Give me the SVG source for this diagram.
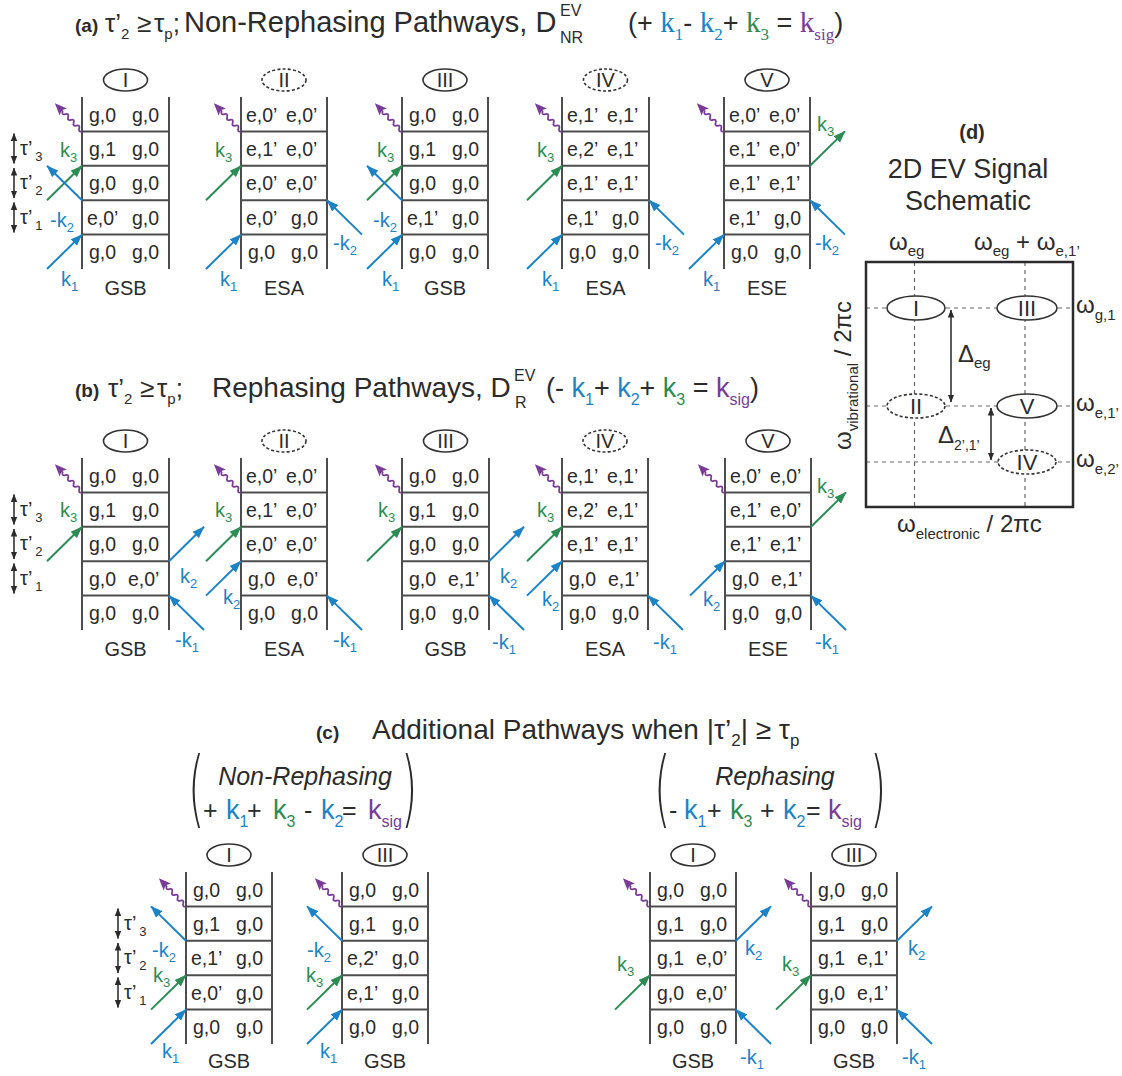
<svg xmlns="http://www.w3.org/2000/svg" xmlns:xlink="http://www.w3.org/1999/xlink" width="1122" height="1076" viewBox="0 0 1122 1076">
<style>
text { font-family: "Liberation Sans", Arial, sans-serif; fill: #2b2b2b; }
.cell { font-size: 19.5px; }
.num { font-size: 20px; text-anchor: middle; }
.cap { font-size: 20px; text-anchor: middle; }
.lb { font-size: 20px; }
.sb { font-size: 13px; }
.bl { fill: #1c83c6; }
.gr { fill: #2c8c53; }
.pu { fill: #7a3b97; }
.sf { font-family: "Liberation Serif", "Times New Roman", serif; }
.ttl { font-size: 29px; }
.par { font-family: "DejaVu Sans", "Liberation Sans", sans-serif; font-weight: 200; font-size: 84px; }
.grid { stroke: #4d4d4d; stroke-width: 2; fill: none; }
.ov { fill: #fff; stroke: #333; stroke-width: 1.6; }
.dov { stroke-dasharray: 3 2.2; }
.ab { stroke: #1c83c6; stroke-width: 2; fill: none; marker-end: url(#mb); }
.ag { stroke: #2c8c53; stroke-width: 2; fill: none; marker-end: url(#mg); }
.tau { stroke: #333; stroke-width: 1.6; marker-start: url(#mk); marker-end: url(#mk); }
.dash { stroke: #666; stroke-width: 1.2; stroke-dasharray: 4 4; fill: none; }
</style>
<defs>
<marker id="mb" viewBox="0 0 12 10" refX="11.5" refY="5" markerWidth="12" markerHeight="10" orient="auto" markerUnits="userSpaceOnUse"><path d="M0,0.5 L12,5 L0,9.5 z" fill="#1c83c6"/></marker>
<marker id="mg" viewBox="0 0 12 10" refX="11.5" refY="5" markerWidth="12" markerHeight="10" orient="auto" markerUnits="userSpaceOnUse"><path d="M0,0.5 L12,5 L0,9.5 z" fill="#2c8c53"/></marker>
<marker id="mk" viewBox="0 0 8 8" refX="7.5" refY="4" markerWidth="8" markerHeight="8" orient="auto-start-reverse" markerUnits="userSpaceOnUse"><path d="M0,0.8 L8,4 L0,7.2 z" fill="#2b2b2b"/></marker>
<g id="wave"><path d="M0,0 Q2,-3.5 4,0 T8,0 T12,0 T16,0 T20,0 T24,0 T28,0 L30,0" fill="none" stroke="#7a3b97" stroke-width="1.8"/><path d="M39,0 L27,-5 L29.5,0 L27,5 z" fill="#7a3b97"/></g>
</defs>
<rect width="1122" height="1076" fill="#fff"/>

<!-- Titles -->
<g id="title-a">
<text class="ttl" y="32"><tspan x="75" font-weight="bold" font-size="19">(a)</tspan><tspan x="105" font-size="26">τ’</tspan><tspan font-size="15" dy="7">2</tspan><tspan x="137" dy="-7" font-size="26">≥</tspan><tspan x="154" font-size="26">τ</tspan><tspan font-size="15" dy="7">p</tspan><tspan dy="-7" font-size="26">;</tspan><tspan x="184">Non-Rephasing Pathways, D</tspan></text>
<text font-size="16" x="560" y="16">EV</text><text font-size="16" x="560" y="43">NR</text>
<text class="ttl" font-size="27" x="628" y="32" style="font-size:27px">(+ <tspan class="bl sf" font-size="29">k</tspan><tspan class="bl sf" font-size="17" dy="8">1</tspan><tspan dy="-8">- </tspan><tspan class="bl sf" font-size="29">k</tspan><tspan class="bl sf" font-size="17" dy="8">2</tspan><tspan dy="-8">+ </tspan><tspan class="gr sf" font-size="29">k</tspan><tspan class="gr sf" font-size="17" dy="8">3</tspan><tspan dy="-8"> = </tspan><tspan class="pu sf" font-size="29">k</tspan><tspan class="pu sf" font-size="17" dy="8">sig</tspan><tspan dy="-8">)</tspan></text>
</g>
<g id="title-b">
<text y="397" font-size="28"><tspan x="75" font-weight="bold" font-size="19">(b)</tspan><tspan x="108" font-size="26">τ’</tspan><tspan font-size="15" dy="7">2</tspan><tspan x="140" dy="-7" font-size="26">≥</tspan><tspan x="157" font-size="26">τ</tspan><tspan font-size="15" dy="7">p</tspan><tspan dy="-7" font-size="26">;</tspan><tspan x="212">Rephasing Pathways, D</tspan></text>
<text font-size="16" x="514" y="381">EV</text><text font-size="16" x="515" y="408">R</text>
<text font-size="27" x="546" y="397">(- <tspan class="bl">k</tspan><tspan class="bl" font-size="16" dy="8">1</tspan><tspan dy="-8">+ </tspan><tspan class="bl">k</tspan><tspan class="bl" font-size="16" dy="8">2</tspan><tspan dy="-8">+ </tspan><tspan class="gr">k</tspan><tspan class="gr" font-size="16" dy="8">3</tspan><tspan dy="-8"> = </tspan><tspan class="pu">k</tspan><tspan class="pu" font-size="16" dy="8">sig</tspan><tspan dy="-8">)</tspan></text>
</g>
<g id="title-c">
<text font-size="28" y="739"><tspan x="316" font-weight="bold" font-size="19">(c)</tspan><tspan x="372">Additional Pathways when |τ’</tspan><tspan font-size="17" dy="7">2</tspan><tspan dy="-7">| ≥ τ</tspan><tspan font-size="17" dy="7">p</tspan></text>
</g>
<g id="hdr-nr">
<text class="par" transform="translate(188,817) scale(0.5,1)">(</text>
<text class="par" transform="translate(401,817) scale(0.5,1)">)</text>
<text x="305" y="785" font-size="25" font-style="italic" text-anchor="middle">Non-Rephasing</text>
<text font-size="25" y="819"><tspan x="203">+</tspan><tspan x="226" class="bl" font-size="27">k</tspan><tspan class="bl" font-size="16" dy="8">1</tspan><tspan x="247" dy="-8">+</tspan><tspan x="273" class="gr" font-size="27">k</tspan><tspan class="gr" font-size="16" dy="8">3</tspan><tspan x="304" dy="-8">-</tspan><tspan x="321" class="bl" font-size="27">k</tspan><tspan class="bl" font-size="16" dy="8">2</tspan><tspan x="342" dy="-8">=</tspan><tspan x="368" class="pu" font-size="27">k</tspan><tspan class="pu" font-size="16" dy="8">sig</tspan></text>
</g>
<g id="hdr-r">
<text class="par" transform="translate(654,817) scale(0.5,1)">(</text>
<text class="par" transform="translate(870,817) scale(0.5,1)">)</text>
<text x="775" y="785" font-size="25" font-style="italic" text-anchor="middle">Rephasing</text>
<text font-size="25" y="819"><tspan x="669">-</tspan><tspan x="684" class="bl" font-size="27">k</tspan><tspan class="bl" font-size="16" dy="8">1</tspan><tspan x="707" dy="-8">+</tspan><tspan x="730" class="gr" font-size="27">k</tspan><tspan class="gr" font-size="16" dy="8">3</tspan><tspan x="760" dy="-8">+</tspan><tspan x="783" class="bl" font-size="27">k</tspan><tspan class="bl" font-size="16" dy="8">2</tspan><tspan x="806" dy="-8">=</tspan><tspan x="828" class="pu" font-size="27">k</tspan><tspan class="pu" font-size="16" dy="8">sig</tspan></text>
</g>

<!-- Tau markers -->
<g id="tau-a">
<line class="tau" x1="14" y1="133.5" x2="14" y2="163.5"/><line class="tau" x1="14" y1="168" x2="14" y2="198"/><line class="tau" x1="14" y1="202.4" x2="14" y2="232.4"/>
<text class="lb" x="20" y="155">τ’<tspan class="sb" dx="3" dy="6">3</tspan></text>
<text class="lb" x="20" y="189">τ’<tspan class="sb" dx="3" dy="6">2</tspan></text>
<text class="lb" x="20" y="224">τ’<tspan class="sb" dx="3" dy="6">1</tspan></text>
</g>
<g id="tau-b">
<line class="tau" x1="14" y1="494.5" x2="14" y2="524.5"/><line class="tau" x1="14" y1="529" x2="14" y2="559"/><line class="tau" x1="14" y1="563.4" x2="14" y2="593.4"/>
<text class="lb" x="20" y="516">τ’<tspan class="sb" dx="3" dy="6">3</tspan></text>
<text class="lb" x="20" y="550">τ’<tspan class="sb" dx="3" dy="6">2</tspan></text>
<text class="lb" x="20" y="585">τ’<tspan class="sb" dx="3" dy="6">1</tspan></text>
</g>
<g id="tau-c">
<line class="tau" x1="118" y1="908.5" x2="118" y2="938.5"/><line class="tau" x1="118" y1="943" x2="118" y2="973"/><line class="tau" x1="118" y1="977.4" x2="118" y2="1007.4"/>
<text class="lb" x="124" y="930">τ’<tspan class="sb" dx="3" dy="6">3</tspan></text>
<text class="lb" x="124" y="964">τ’<tspan class="sb" dx="3" dy="6">2</tspan></text>
<text class="lb" x="124" y="999">τ’<tspan class="sb" dx="3" dy="6">1</tspan></text>
</g>

<!-- Panel (a) diagrams -->
<g id="a1">
<ellipse class="ov" cx="125.5" cy="80" rx="22" ry="11"/><text class="num" x="125.5" y="87">I</text>
<path class="grid" d="M82,97V269M169,97V269M82,131.4H169M82,165.8H169M82,200.2H169M82,234.6H169"/>
<text class="cell" y="121.5"><tspan x="89">g,0</tspan><tspan x="132">g,0</tspan></text>
<text class="cell" y="155.9"><tspan x="89">g,1</tspan><tspan x="132">g,0</tspan></text>
<text class="cell" y="190.3"><tspan x="89">g,0</tspan><tspan x="132">g,0</tspan></text>
<text class="cell" y="224.7"><tspan x="87">e,0’</tspan><tspan x="132">g,0</tspan></text>
<text class="cell" y="259.1"><tspan x="89">g,0</tspan><tspan x="132">g,0</tspan></text>
<text class="cap" x="125.5" y="295">GSB</text>
</g>
<g id="a2">
<ellipse class="ov dov" cx="284" cy="80" rx="22" ry="11"/><text class="num" x="284" y="87">II</text>
<path class="grid" d="M241,97V269M327,97V269M241,131.4H327M241,165.8H327M241,200.2H327M241,234.6H327"/>
<text class="cell" y="121.5"><tspan x="246">e,0’</tspan><tspan x="286">e,0’</tspan></text>
<text class="cell" y="155.9"><tspan x="246">e,1’</tspan><tspan x="286">e,0’</tspan></text>
<text class="cell" y="190.3"><tspan x="246">e,0’</tspan><tspan x="286">e,0’</tspan></text>
<text class="cell" y="224.7"><tspan x="246">e,0’</tspan><tspan x="291">g,0</tspan></text>
<text class="cell" y="259.1"><tspan x="248">g,0</tspan><tspan x="291">g,0</tspan></text>
<text class="cap" x="284" y="295">ESA</text>
</g>
<g id="a3">
<ellipse class="ov" cx="445" cy="80" rx="22" ry="11"/><text class="num" x="445" y="87">III</text>
<path class="grid" d="M402,97V269M488,97V269M402,131.4H488M402,165.8H488M402,200.2H488M402,234.6H488"/>
<text class="cell" y="121.5"><tspan x="409">g,0</tspan><tspan x="452">g,0</tspan></text>
<text class="cell" y="155.9"><tspan x="409">g,1</tspan><tspan x="452">g,0</tspan></text>
<text class="cell" y="190.3"><tspan x="409">g,0</tspan><tspan x="452">g,0</tspan></text>
<text class="cell" y="224.7"><tspan x="407">e,1’</tspan><tspan x="452">g,0</tspan></text>
<text class="cell" y="259.1"><tspan x="409">g,0</tspan><tspan x="452">g,0</tspan></text>
<text class="cap" x="445" y="295">GSB</text>
</g>
<g id="a4">
<ellipse class="ov dov" cx="605.5" cy="80" rx="22" ry="11"/><text class="num" x="605.5" y="87">IV</text>
<path class="grid" d="M562,97V269M649,97V269M562,131.4H649M562,165.8H649M562,200.2H649M562,234.6H649"/>
<text class="cell" y="121.5"><tspan x="567">e,1’</tspan><tspan x="607">e,1’</tspan></text>
<text class="cell" y="155.9"><tspan x="567">e,2’</tspan><tspan x="607">e,1’</tspan></text>
<text class="cell" y="190.3"><tspan x="567">e,1’</tspan><tspan x="607">e,1’</tspan></text>
<text class="cell" y="224.7"><tspan x="567">e,1’</tspan><tspan x="612">g,0</tspan></text>
<text class="cell" y="259.1"><tspan x="569">g,0</tspan><tspan x="612">g,0</tspan></text>
<text class="cap" x="605.5" y="295">ESA</text>
</g>
<g id="a5">
<ellipse class="ov" cx="767" cy="80" rx="22" ry="11"/><text class="num" x="767" y="87">V</text>
<path class="grid" d="M724,97V269M810,97V269M724,131.4H810M724,165.8H810M724,200.2H810M724,234.6H810"/>
<text class="cell" y="121.5"><tspan x="729">e,0’</tspan><tspan x="769">e,0’</tspan></text>
<text class="cell" y="155.9"><tspan x="729">e,1’</tspan><tspan x="769">e,0’</tspan></text>
<text class="cell" y="190.3"><tspan x="729">e,1’</tspan><tspan x="769">e,1’</tspan></text>
<text class="cell" y="224.7"><tspan x="729">e,1’</tspan><tspan x="774">g,0</tspan></text>
<text class="cell" y="259.1"><tspan x="731">g,0</tspan><tspan x="774">g,0</tspan></text>
<text class="cap" x="767" y="295">ESE</text>
</g>

<!-- Panel (b) diagrams -->
<g id="b1">
<ellipse class="ov" cx="125.5" cy="441" rx="22" ry="11"/><text class="num" x="125.5" y="448">I</text>
<path class="grid" d="M82,458V630M169,458V630M82,492.4H169M82,526.8H169M82,561.2H169M82,595.6H169"/>
<text class="cell" y="482.5"><tspan x="89">g,0</tspan><tspan x="132">g,0</tspan></text>
<text class="cell" y="516.9"><tspan x="89">g,1</tspan><tspan x="132">g,0</tspan></text>
<text class="cell" y="551.3"><tspan x="89">g,0</tspan><tspan x="132">g,0</tspan></text>
<text class="cell" y="585.7"><tspan x="89">g,0</tspan><tspan x="128">e,0’</tspan></text>
<text class="cell" y="620.1"><tspan x="89">g,0</tspan><tspan x="132">g,0</tspan></text>
<text class="cap" x="125.5" y="656">GSB</text>
</g>
<g id="b2">
<ellipse class="ov dov" cx="284" cy="441" rx="22" ry="11"/><text class="num" x="284" y="448">II</text>
<path class="grid" d="M241,458V630M327,458V630M241,492.4H327M241,526.8H327M241,561.2H327M241,595.6H327"/>
<text class="cell" y="482.5"><tspan x="246">e,0’</tspan><tspan x="286">e,0’</tspan></text>
<text class="cell" y="516.9"><tspan x="246">e,1’</tspan><tspan x="286">e,0’</tspan></text>
<text class="cell" y="551.3"><tspan x="246">e,0’</tspan><tspan x="286">e,0’</tspan></text>
<text class="cell" y="585.7"><tspan x="248">g,0</tspan><tspan x="287">e,0’</tspan></text>
<text class="cell" y="620.1"><tspan x="248">g,0</tspan><tspan x="291">g,0</tspan></text>
<text class="cap" x="284" y="656">ESA</text>
</g>
<g id="b3">
<ellipse class="ov" cx="445.5" cy="441" rx="22" ry="11"/><text class="num" x="445.5" y="448">III</text>
<path class="grid" d="M402,458V630M489,458V630M402,492.4H489M402,526.8H489M402,561.2H489M402,595.6H489"/>
<text class="cell" y="482.5"><tspan x="409">g,0</tspan><tspan x="452">g,0</tspan></text>
<text class="cell" y="516.9"><tspan x="409">g,1</tspan><tspan x="452">g,0</tspan></text>
<text class="cell" y="551.3"><tspan x="409">g,0</tspan><tspan x="452">g,0</tspan></text>
<text class="cell" y="585.7"><tspan x="409">g,0</tspan><tspan x="448">e,1’</tspan></text>
<text class="cell" y="620.1"><tspan x="409">g,0</tspan><tspan x="452">g,0</tspan></text>
<text class="cap" x="445.5" y="656">GSB</text>
</g>
<g id="b4">
<ellipse class="ov dov" cx="605" cy="441" rx="22" ry="11"/><text class="num" x="605" y="448">IV</text>
<path class="grid" d="M562,458V630M648,458V630M562,492.4H648M562,526.8H648M562,561.2H648M562,595.6H648"/>
<text class="cell" y="482.5"><tspan x="567">e,1’</tspan><tspan x="607">e,1’</tspan></text>
<text class="cell" y="516.9"><tspan x="567">e,2’</tspan><tspan x="607">e,1’</tspan></text>
<text class="cell" y="551.3"><tspan x="567">e,1’</tspan><tspan x="607">e,1’</tspan></text>
<text class="cell" y="585.7"><tspan x="569">g,0</tspan><tspan x="608">e,1’</tspan></text>
<text class="cell" y="620.1"><tspan x="569">g,0</tspan><tspan x="612">g,0</tspan></text>
<text class="cap" x="605" y="656">ESA</text>
</g>
<g id="b5">
<ellipse class="ov" cx="768" cy="441" rx="22" ry="11"/><text class="num" x="768" y="448">V</text>
<path class="grid" d="M725,458V630M811,458V630M725,492.4H811M725,526.8H811M725,561.2H811M725,595.6H811"/>
<text class="cell" y="482.5"><tspan x="730">e,0’</tspan><tspan x="770">e,0’</tspan></text>
<text class="cell" y="516.9"><tspan x="730">e,1’</tspan><tspan x="770">e,0’</tspan></text>
<text class="cell" y="551.3"><tspan x="730">e,1’</tspan><tspan x="770">e,1’</tspan></text>
<text class="cell" y="585.7"><tspan x="732">g,0</tspan><tspan x="771">e,1’</tspan></text>
<text class="cell" y="620.1"><tspan x="732">g,0</tspan><tspan x="775">g,0</tspan></text>
<text class="cap" x="768" y="656">ESE</text>
</g>

<!-- Panel (c) diagrams -->
<g id="c1">
<ellipse class="ov" cx="229" cy="855" rx="22" ry="11"/><text class="num" x="229" y="862">I</text>
<path class="grid" d="M186,872V1044M272,872V1044M186,906.4H272M186,940.8H272M186,975.2H272M186,1009.6H272"/>
<text class="cell" y="896.5"><tspan x="193">g,0</tspan><tspan x="236">g,0</tspan></text>
<text class="cell" y="930.9"><tspan x="193">g,1</tspan><tspan x="236">g,0</tspan></text>
<text class="cell" y="965.3"><tspan x="191">e,1’</tspan><tspan x="236">g,0</tspan></text>
<text class="cell" y="999.7"><tspan x="191">e,0’</tspan><tspan x="236">g,0</tspan></text>
<text class="cell" y="1034.1"><tspan x="193">g,0</tspan><tspan x="236">g,0</tspan></text>
<text class="cap" x="229" y="1068">GSB</text>
</g>
<g id="c2">
<ellipse class="ov" cx="385" cy="855" rx="22" ry="11"/><text class="num" x="385" y="862">III</text>
<path class="grid" d="M342,872V1044M428,872V1044M342,906.4H428M342,940.8H428M342,975.2H428M342,1009.6H428"/>
<text class="cell" y="896.5"><tspan x="349">g,0</tspan><tspan x="392">g,0</tspan></text>
<text class="cell" y="930.9"><tspan x="349">g,1</tspan><tspan x="392">g,0</tspan></text>
<text class="cell" y="965.3"><tspan x="347">e,2’</tspan><tspan x="392">g,0</tspan></text>
<text class="cell" y="999.7"><tspan x="347">e,1’</tspan><tspan x="392">g,0</tspan></text>
<text class="cell" y="1034.1"><tspan x="349">g,0</tspan><tspan x="392">g,0</tspan></text>
<text class="cap" x="385" y="1068">GSB</text>
</g>
<g id="c3">
<ellipse class="ov" cx="693" cy="855" rx="22" ry="11"/><text class="num" x="693" y="862">I</text>
<path class="grid" d="M650,872V1044M736,872V1044M650,906.4H736M650,940.8H736M650,975.2H736M650,1009.6H736"/>
<text class="cell" y="896.5"><tspan x="657">g,0</tspan><tspan x="700">g,0</tspan></text>
<text class="cell" y="930.9"><tspan x="657">g,1</tspan><tspan x="700">g,0</tspan></text>
<text class="cell" y="965.3"><tspan x="657">g,1</tspan><tspan x="696">e,0’</tspan></text>
<text class="cell" y="999.7"><tspan x="657">g,0</tspan><tspan x="696">e,0’</tspan></text>
<text class="cell" y="1034.1"><tspan x="657">g,0</tspan><tspan x="700">g,0</tspan></text>
<text class="cap" x="693" y="1068">GSB</text>
</g>
<g id="c4">
<ellipse class="ov" cx="854" cy="855" rx="22" ry="11"/><text class="num" x="854" y="862">III</text>
<path class="grid" d="M811,872V1044M897,872V1044M811,906.4H897M811,940.8H897M811,975.2H897M811,1009.6H897"/>
<text class="cell" y="896.5"><tspan x="818">g,0</tspan><tspan x="861">g,0</tspan></text>
<text class="cell" y="930.9"><tspan x="818">g,1</tspan><tspan x="861">g,0</tspan></text>
<text class="cell" y="965.3"><tspan x="818">g,1</tspan><tspan x="857">e,1’</tspan></text>
<text class="cell" y="999.7"><tspan x="818">g,0</tspan><tspan x="857">e,1’</tspan></text>
<text class="cell" y="1034.1"><tspan x="818">g,0</tspan><tspan x="861">g,0</tspan></text>
<text class="cap" x="854" y="1068">GSB</text>
</g>

<!-- Panel (d) -->
<g id="panel-d">
<text x="972" y="139" font-size="20" font-weight="bold" text-anchor="middle">(d)</text>
<text x="968" y="178" font-size="27" text-anchor="middle">2D EV Signal</text>
<text x="968" y="210" font-size="27" text-anchor="middle">Schematic</text>
<path class="dash" d="M914.5,262V507M1025,262V507M866,308H1073M866,406H1073M866,462H1073"/>
<rect x="866" y="262" width="207" height="245" fill="none" stroke="#2b2b2b" stroke-width="2.5"/>
<g id="d-I"><ellipse class="ov" cx="916" cy="308" rx="29" ry="12"/><text x="916" y="316" font-size="22" text-anchor="middle">I</text></g>
<g id="d-III"><ellipse class="ov" cx="1027" cy="308" rx="30" ry="12"/><text x="1027" y="316" font-size="22" text-anchor="middle">III</text></g>
<g id="d-II"><ellipse class="ov dov" cx="916" cy="406" rx="29" ry="12"/><text x="916" y="414" font-size="22" text-anchor="middle">II</text></g>
<g id="d-V"><ellipse class="ov" cx="1027" cy="406" rx="30" ry="12"/><text x="1027" y="414" font-size="22" text-anchor="middle">V</text></g>
<g id="d-IV"><ellipse class="ov dov" cx="1027" cy="462" rx="29" ry="12"/><text x="1027" y="470" font-size="22" text-anchor="middle">IV</text></g>
<line class="tau" x1="951" y1="310" x2="951" y2="402"/>
<line class="tau" x1="991" y1="408" x2="991" y2="460"/>
<text x="958" y="362" font-size="24">Δ<tspan font-size="15" dy="6">eg</tspan></text>
<text x="938" y="443" font-size="24">Δ<tspan font-size="14" dy="7">2’,1’</tspan></text>
<text x="889" y="250" font-size="24">ω<tspan font-size="15" dy="6">eg</tspan></text>
<text x="974" y="250" font-size="24">ω<tspan font-size="15" dy="6">eg</tspan><tspan dy="-6"> + ω</tspan><tspan font-size="15" dy="6">e,1’</tspan></text>
<text x="1076" y="313" font-size="24">ω<tspan font-size="15" dy="7">g,1</tspan></text>
<text x="1076" y="411" font-size="24">ω<tspan font-size="15" dy="7">e,1’</tspan></text>
<text x="1076" y="467" font-size="24">ω<tspan font-size="15" dy="7">e,2’</tspan></text>
<text x="897" y="532" font-size="24">ω<tspan font-size="15" dy="7">electronic</tspan><tspan dy="-7"> / 2πc</tspan></text>
<text font-size="24" transform="translate(851,450) rotate(-90)">ω<tspan font-size="15" dy="7">vibrational</tspan><tspan dy="-7"> / 2πc</tspan></text>
</g>

<!-- Connectors: field arrows and signal emissions -->
<g id="connectors">
<path class="ag" d="M47,200.2L82,165.8"/><path class="ab" d="M82,200.2L47,165.8"/><path class="ab" d="M47,269L82,234.6"/>
<path class="ag" d="M206,200.2L241,165.8"/><path class="ab" d="M206,269L241,234.6"/><path class="ab" d="M362,234.6L327,200.2"/>
<path class="ag" d="M367,200.2L402,165.8"/><path class="ab" d="M402,200.2L367,165.8"/><path class="ab" d="M367,269L402,234.6"/>
<path class="ag" d="M527,200.2L562,165.8"/><path class="ab" d="M527,269L562,234.6"/><path class="ab" d="M684,234.6L649,200.2"/>
<path class="ab" d="M689,269L724,234.6"/><path class="ab" d="M845,234.6L810,200.2"/><path class="ag" d="M810,165.8L845,131.4"/>
<use xlink:href="#wave" transform="translate(82,131.4) rotate(-134)"/>
<use xlink:href="#wave" transform="translate(241,131.4) rotate(-134)"/>
<use xlink:href="#wave" transform="translate(402,131.4) rotate(-134)"/>
<use xlink:href="#wave" transform="translate(562,131.4) rotate(-134)"/>
<use xlink:href="#wave" transform="translate(724,131.4) rotate(-134)"/>
<path class="ag" d="M47,561.2L82,526.8"/><path class="ab" d="M169,561.2L204,526.8"/><path class="ab" d="M204,630L169,595.6"/>
<path class="ag" d="M206,561.2L241,526.8"/><path class="ab" d="M206,595.6L241,561.2"/><path class="ab" d="M362,630L327,595.6"/>
<path class="ag" d="M367,561.2L402,526.8"/><path class="ab" d="M489,561.2L524,526.8"/><path class="ab" d="M524,630L489,595.6"/>
<path class="ag" d="M527,561.2L562,526.8"/><path class="ab" d="M527,595.6L562,561.2"/><path class="ab" d="M683,630L648,595.6"/>
<path class="ab" d="M690,595.6L725,561.2"/><path class="ag" d="M811,526.8L846,492.4"/><path class="ab" d="M846,630L811,595.6"/>
<use xlink:href="#wave" transform="translate(82,492.4) rotate(-134)"/>
<use xlink:href="#wave" transform="translate(241,492.4) rotate(-134)"/>
<use xlink:href="#wave" transform="translate(402,492.4) rotate(-134)"/>
<use xlink:href="#wave" transform="translate(562,492.4) rotate(-134)"/>
<use xlink:href="#wave" transform="translate(725,492.4) rotate(-134)"/>
<path class="ab" d="M186,940.8L151,906.4"/><path class="ag" d="M151,1009.6L186,975.2"/><path class="ab" d="M151,1044L186,1009.6"/>
<path class="ab" d="M342,940.8L307,906.4"/><path class="ag" d="M307,1009.6L342,975.2"/><path class="ab" d="M307,1044L342,1009.6"/>
<path class="ag" d="M615,1009.6L650,975.2"/><path class="ab" d="M736,940.8L771,906.4"/><path class="ab" d="M771,1044L736,1009.6"/>
<path class="ag" d="M776,1009.6L811,975.2"/><path class="ab" d="M897,940.8L932,906.4"/><path class="ab" d="M932,1044L897,1009.6"/>
<use xlink:href="#wave" transform="translate(186,906.4) rotate(-134)"/>
<use xlink:href="#wave" transform="translate(342,906.4) rotate(-134)"/>
<use xlink:href="#wave" transform="translate(650,906.4) rotate(-134)"/>
<use xlink:href="#wave" transform="translate(811,906.4) rotate(-134)"/>
</g>

<!-- Field labels -->
<g id="field-labels">
<text class="lb gr" x="60" y="157">k<tspan class="sb" dy="5">3</tspan></text>
<text class="lb bl" x="50" y="227">-k<tspan class="sb" dy="5">2</tspan></text>
<text class="lb bl" x="61" y="286">k<tspan class="sb" dy="5">1</tspan></text>
<text class="lb gr" x="215" y="157">k<tspan class="sb" dy="5">3</tspan></text>
<text class="lb bl" x="220" y="286">k<tspan class="sb" dy="5">1</tspan></text>
<text class="lb bl" x="333" y="250">-k<tspan class="sb" dy="5">2</tspan></text>
<text class="lb gr" x="377" y="157">k<tspan class="sb" dy="5">3</tspan></text>
<text class="lb bl" x="373" y="227">-k<tspan class="sb" dy="5">2</tspan></text>
<text class="lb bl" x="382" y="286">k<tspan class="sb" dy="5">1</tspan></text>
<text class="lb gr" x="537" y="157">k<tspan class="sb" dy="5">3</tspan></text>
<text class="lb bl" x="542" y="286">k<tspan class="sb" dy="5">1</tspan></text>
<text class="lb bl" x="655" y="250">-k<tspan class="sb" dy="5">2</tspan></text>
<text class="lb bl" x="703" y="286">k<tspan class="sb" dy="5">1</tspan></text>
<text class="lb bl" x="815" y="250">-k<tspan class="sb" dy="5">2</tspan></text>
<text class="lb gr" x="817" y="131">k<tspan class="sb" dy="5">3</tspan></text>
<text class="lb gr" x="60" y="517">k<tspan class="sb" dy="5">3</tspan></text>
<text class="lb bl" x="180" y="583">k<tspan class="sb" dy="5">2</tspan></text>
<text class="lb bl" x="175" y="647">-k<tspan class="sb" dy="5">1</tspan></text>
<text class="lb gr" x="215" y="517">k<tspan class="sb" dy="5">3</tspan></text>
<text class="lb bl" x="223" y="604">k<tspan class="sb" dy="5">2</tspan></text>
<text class="lb bl" x="333" y="647">-k<tspan class="sb" dy="5">1</tspan></text>
<text class="lb gr" x="378" y="517">k<tspan class="sb" dy="5">3</tspan></text>
<text class="lb bl" x="500" y="583">k<tspan class="sb" dy="5">2</tspan></text>
<text class="lb bl" x="492" y="649">-k<tspan class="sb" dy="5">1</tspan></text>
<text class="lb gr" x="537" y="517">k<tspan class="sb" dy="5">3</tspan></text>
<text class="lb bl" x="542" y="606">k<tspan class="sb" dy="5">2</tspan></text>
<text class="lb bl" x="653" y="649">-k<tspan class="sb" dy="5">1</tspan></text>
<text class="lb bl" x="703" y="606">k<tspan class="sb" dy="5">2</tspan></text>
<text class="lb gr" x="817" y="493">k<tspan class="sb" dy="5">3</tspan></text>
<text class="lb bl" x="815" y="649">-k<tspan class="sb" dy="5">1</tspan></text>
<text class="lb bl" x="152" y="957">-k<tspan class="sb" dy="5">2</tspan></text>
<text class="lb gr" x="153" y="982">k<tspan class="sb" dy="5">3</tspan></text>
<text class="lb bl" x="162" y="1058">k<tspan class="sb" dy="5">1</tspan></text>
<text class="lb bl" x="307" y="957">-k<tspan class="sb" dy="5">2</tspan></text>
<text class="lb gr" x="306" y="982">k<tspan class="sb" dy="5">3</tspan></text>
<text class="lb bl" x="320" y="1058">k<tspan class="sb" dy="5">1</tspan></text>
<text class="lb gr" x="617" y="971">k<tspan class="sb" dy="5">3</tspan></text>
<text class="lb bl" x="745" y="955">k<tspan class="sb" dy="5">2</tspan></text>
<text class="lb bl" x="740" y="1064">-k<tspan class="sb" dy="5">1</tspan></text>
<text class="lb gr" x="782" y="971">k<tspan class="sb" dy="5">3</tspan></text>
<text class="lb bl" x="908" y="955">k<tspan class="sb" dy="5">2</tspan></text>
<text class="lb bl" x="902" y="1064">-k<tspan class="sb" dy="5">1</tspan></text>
</g>
</svg>
